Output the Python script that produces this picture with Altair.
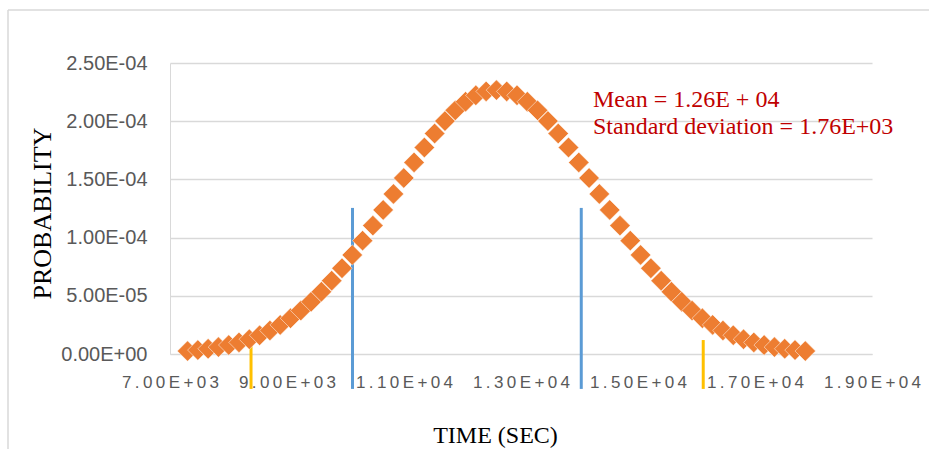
import altair as alt
import pandas as pd

# Time (sec) of each plotted diamond
time_sec = [7300, 7476, 7652, 7828, 8004, 8180, 8356, 8532, 8708, 8884,
            9060, 9236, 9412, 9588, 9764, 9940, 10116, 10292, 10468, 10644,
            10820, 10996, 11172, 11348, 11524, 11700, 11876, 12052, 12228, 12404,
            12580, 12756, 12932, 13108, 13284, 13460, 13636, 13812, 13988, 14164,
            14340, 14516, 14692, 14868, 15044, 15220, 15396, 15572, 15748, 15924,
            16100, 16276, 16452, 16628, 16804, 16980, 17156, 17332, 17508, 17684,
            17860]
# Probability read for each diamond
probability = [2.52e-06, 3.38e-06, 4.50e-06, 5.92e-06, 7.72e-06, 9.96e-06, 1.27e-05, 1.61e-05, 2.02e-05, 2.50e-05,
               3.07e-05, 3.73e-05, 4.49e-05, 5.34e-05, 6.30e-05, 7.36e-05, 8.51e-05, 9.74e-05, 1.103e-04, 1.238e-04,
               1.375e-04, 1.512e-04, 1.646e-04, 1.774e-04, 1.894e-04, 2.001e-04, 2.093e-04, 2.167e-04, 2.222e-04, 2.256e-04,
               2.267e-04, 2.256e-04, 2.222e-04, 2.167e-04, 2.093e-04, 2.001e-04, 1.894e-04, 1.774e-04, 1.646e-04, 1.512e-04,
               1.375e-04, 1.238e-04, 1.103e-04, 9.74e-05, 8.51e-05, 7.36e-05, 6.30e-05, 5.34e-05, 4.49e-05, 3.73e-05,
               3.07e-05, 2.50e-05, 2.02e-05, 1.61e-05, 1.27e-05, 9.96e-06, 7.72e-06, 5.92e-06, 4.50e-06, 3.38e-06,
               2.52e-06]

# Vertical marker lines
blue_lines_x = [10120, 14030]
blue_lines_top = [1.255e-04, 1.255e-04]
yellow_lines_x = [8385, 16115]
yellow_lines_top = [1.2e-05, 1.2e-05]
lines_bottom = -3.0e-05

x_ticks = [7000, 9000, 11000, 13000, 15000, 17000, 19000]
x_tick_labels = ["7.00E+03", "9.00E+03", "1.10E+04", "1.30E+04", "1.50E+04", "1.70E+04", "1.90E+04"]
y_ticks = [0, 5e-05, 1e-04, 1.5e-04, 2e-04, 2.5e-04]
y_tick_labels = ["0.00E+00", "5.00E-05", "1.00E-04", "1.50E-04", "2.00E-04", "2.50E-04"]

annotation = ["Mean = 1.26E + 04", "Standard deviation = 1.76E+03"]
x_title = "TIME (SEC)"
y_title = "PROBABILITY"

THIN = "\u2009"


def label_expr(values, labels, spaced=False):
    expr = "''"
    for v, lab in reversed(list(zip(values, labels))):
        txt = THIN.join(lab) if spaced else lab
        expr = f"abs(datum.value - ({v!r})) < 1e-9 ? '{txt}' : {expr}"
    return expr


curve = pd.DataFrame({"t": time_sec, "p": probability})
blue = pd.DataFrame({"t": blue_lines_x, "top": blue_lines_top, "bottom": [lines_bottom] * len(blue_lines_x)})
yellow = pd.DataFrame({"t": yellow_lines_x, "top": yellow_lines_top, "bottom": [lines_bottom] * len(yellow_lines_x)})
dummy = pd.DataFrame({"a": [0]})

GRID = "#D9D9D9"
LABEL = "#595959"

x_scale = alt.Scale(domain=[7000, 19000], nice=False, zero=False)
y_scale = alt.Scale(domain=[0, 2.5e-04], nice=False, zero=False)

x_axis = alt.Axis(
    values=x_ticks, labelExpr=label_expr(x_ticks, x_tick_labels, spaced=True),
    grid=False, ticks=False, domain=True, domainColor=GRID, domainWidth=1,
    labelFont="Liberation Sans", labelFontSize=17, labelColor=LABEL, labelPadding=20,
    labelOverlap=False, labelFlush=False,
    title=x_title, titleFont="Liberation Serif", titleFontSize=24, titleFontWeight="normal",
    titleColor="black", titleX=325, titleY=88, titleAlign="center", titleBaseline="alphabetic",
)
y_axis = alt.Axis(
    values=y_ticks, labelExpr=label_expr(y_ticks, y_tick_labels),
    grid=True, gridColor=GRID, gridWidth=1.5, ticks=False, domain=True, domainColor=GRID, domainWidth=1,
    labelFont="Liberation Sans", labelFontSize=20, labelColor=LABEL, labelPadding=23,
    labelOverlap=False, labelFlush=False,
    title=y_title, titleFont="Liberation Serif", titleFontSize=26, titleFontWeight="normal",
    titleColor="black", titleX=-120, titleY=150, titleAngle=270, titleAlign="center",
    titleBaseline="alphabetic",
)

points = alt.Chart(curve).mark_point(
    shape="diamond", filled=True, fill="#ED7D31", stroke="white", strokeWidth=0.5,
    size=420, opacity=1,
).encode(
    x=alt.X("t:Q", scale=x_scale, axis=x_axis),
    y=alt.Y("p:Q", scale=y_scale, axis=y_axis),
)

blue_rules = alt.Chart(blue).mark_rule(color="#5B9BD5", strokeWidth=3).encode(
    x=alt.X("t:Q", scale=x_scale), y=alt.Y("bottom:Q", scale=y_scale), y2="top:Q"
)
yellow_rules = alt.Chart(yellow).mark_rule(color="#FFC000", strokeWidth=3).encode(
    x=alt.X("t:Q", scale=x_scale), y=alt.Y("bottom:Q", scale=y_scale), y2="top:Q"
)

note = alt.Chart(dummy).mark_text(
    align="left", baseline="alphabetic", font="Liberation Serif", fontSize=24,
    color="#C00000", lineBreak="\n", lineHeight=27,
).encode(x=alt.value(423), y=alt.value(44), text=alt.value("\n".join(annotation)))

border_left = alt.Chart(dummy).mark_rule(color=GRID, strokeWidth=1.5).encode(
    x=alt.value(-162), y=alt.value(-53), y2=alt.value(400)
)
border_top = alt.Chart(dummy).mark_rule(color=GRID, strokeWidth=1.5).encode(
    x=alt.value(-162), x2=alt.value(800), y=alt.value(-53)
)

chart = alt.layer(
    border_left, border_top, blue_rules, yellow_rules, points, note
).properties(
    width=702, height=291,
    padding={"left": 170, "top": 63, "right": 57, "bottom": 95},
    autosize=alt.AutoSizeParams(type="none"),
    background="white",
).configure_view(stroke=None)

chart.save("out.html", embed_options={"renderer": "svg", "actions": False})
